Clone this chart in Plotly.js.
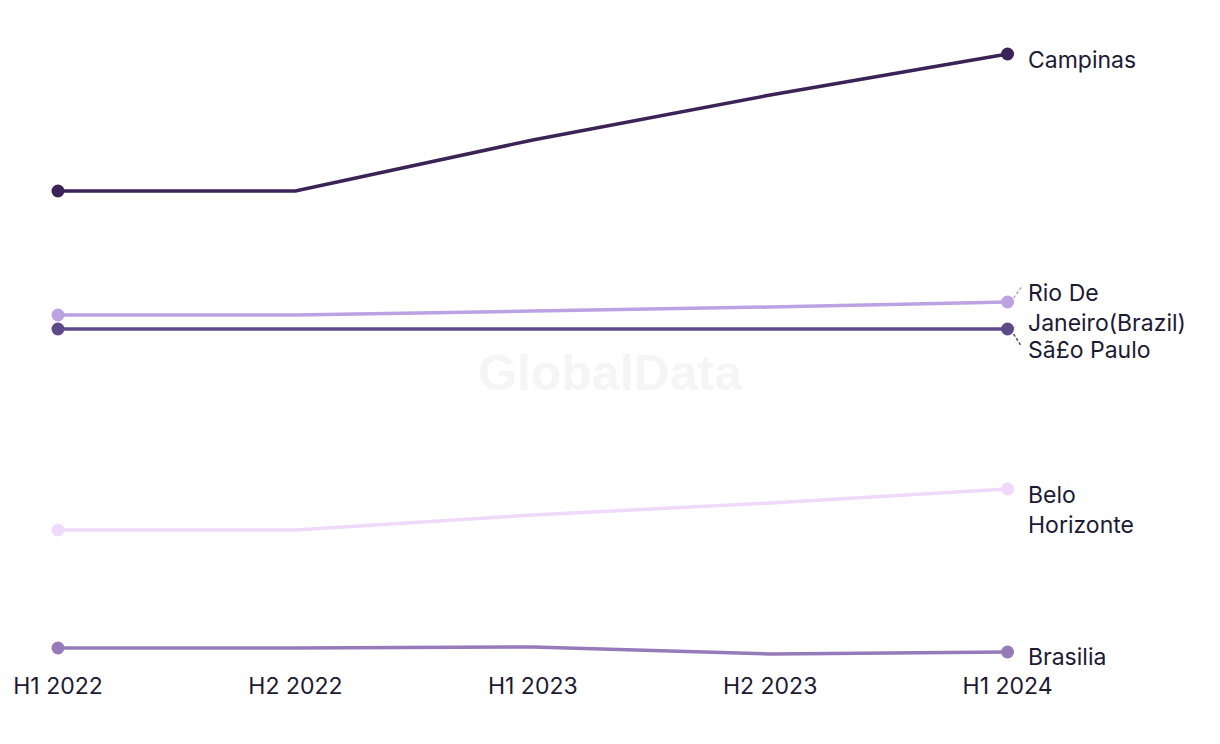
<!DOCTYPE html>
<html><head><meta charset="utf-8">
<script src="https://cdn.plot.ly/plotly-3.0.1.min.js"></script>
<style>html,body{margin:0;padding:0;background:#fff}#chart{width:1220px;height:744px}</style>
</head><body><div id="chart"></div>
<script>
const periods = ["H1 2022","H2 2022","H1 2023","H2 2023","H1 2024"];
const campinas = [50.9, 50.9, 56.0, 60.5, 64.6];
const rio = [38.5, 38.5, 38.9, 39.3, 39.8];
const saoPaulo = [37.1, 37.1, 37.1, 37.1, 37.1];
const belo = [17.0, 17.0, 18.5, 19.7, 21.1];
const brasilia = [5.2, 5.2, 5.3, 4.6, 4.8];

const seriesNames = ["Campinas","Rio De<br>Janeiro(Brazil)","Sã£o Paulo","Belo<br>Horizonte","Brasilia"];
const seriesData = [campinas, rio, saoPaulo, belo, brasilia];
const colors = ["#3b2358","#bba2e2","#5f4a89","#f0d9fb","#967ab9"];
const labelYShift = [-6, -6, -21, -21, -5];

const font = "Inter, 'Noto Sans', sans-serif";
const textColor = "#1d1a33";
const lastIdx = periods.length - 1;

const traces = [];
const annotations = [];
const shapes = [];
seriesData.forEach((vals, i) => {
  traces.push({
    x: periods, y: vals, type: "scatter", mode: "lines",
    line: {color: colors[i], width: 3.5}, hoverinfo: "skip", cliponaxis: false
  });
  traces.push({
    x: [periods[0], periods[lastIdx]],
    y: [vals[0], vals[lastIdx]],
    type: "scatter", mode: "markers",
    marker: {color: colors[i], size: 13}, hoverinfo: "skip", cliponaxis: false
  });
  annotations.push({
    x: periods[lastIdx], y: vals[lastIdx], xref: "x", yref: "y",
    text: seriesNames[i], showarrow: false, xanchor: "left", yanchor: "middle",
    align: "left", xshift: 18, yshift: labelYShift[i],
    font: {family: font, size: 23, color: textColor}
  });
});
// connector lines for Rio and Sao Paulo
shapes.push({type:"line", xref:"x", yref:"y", xsizemode:"pixel", ysizemode:"pixel",
  xanchor: lastIdx, yanchor: rio[lastIdx], x0: 6, x1: 14, y0: 4, y1: 15,
  line:{color: colors[1], width: 1.5, dash:"3px,2px"}});
shapes.push({type:"line", xref:"x", yref:"y", xsizemode:"pixel", ysizemode:"pixel",
  xanchor: lastIdx, yanchor: saoPaulo[lastIdx], x0: 6, x1: 13, y0: -5, y1: -16,
  line:{color: colors[2], width: 1.5, dash:"3px,2px"}});

annotations.push({
  xref: "paper", yref: "paper", x: 0.506, y: 0.443, showarrow: false,
  text: "<b>GlobalData</b>", font: {family: "'Liberation Sans', Arial, sans-serif", size: 50, color: "#f5f5f5"}
});

const layout = {
  width: 1220, height: 744,
  margin: {l: 58, r: 69.5, t: 0, b: 74},
  paper_bgcolor: "#ffffff", plot_bgcolor: "#ffffff",
  showlegend: false,
  xaxis: {type: "category", range: [0, 4.6], showgrid: false, zeroline: false, showline: false,
    ticks: "", tickfont: {family: font, size: 23, color: textColor}, fixedrange: true},
  yaxis: {range: [3, 70], visible: false, showgrid: false, zeroline: false, fixedrange: true},
  annotations: annotations, shapes: shapes
};
Plotly.newPlot("chart", traces, layout, {staticPlot: true});
</script></body></html>
